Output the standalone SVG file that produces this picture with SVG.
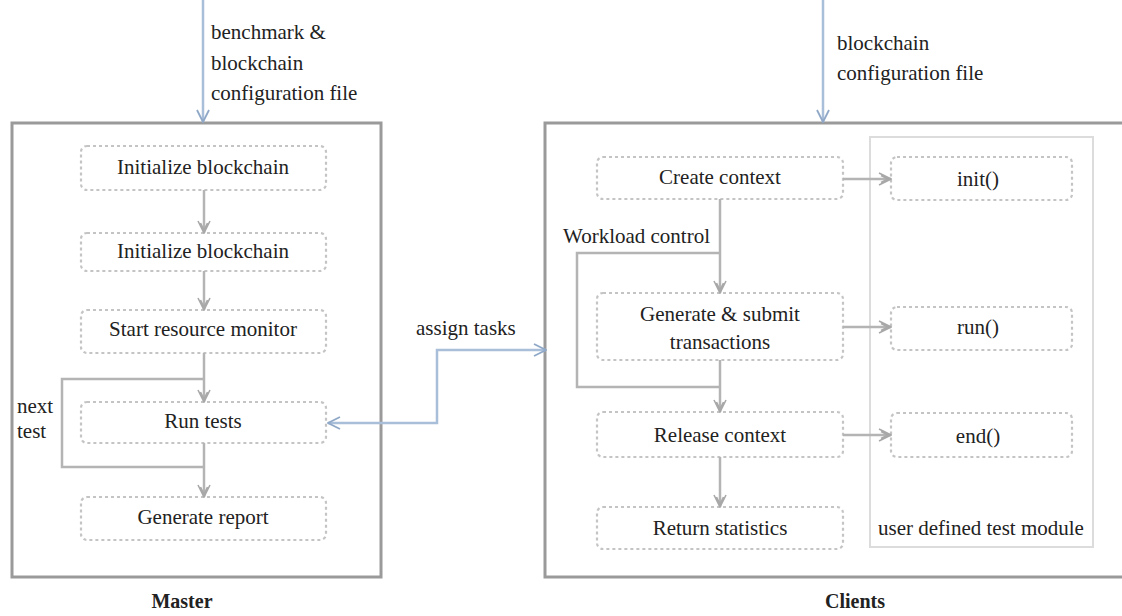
<svg xmlns="http://www.w3.org/2000/svg" width="1122" height="616" viewBox="0 0 1122 616">
<style>
  text { font-family: 'Liberation Serif', 'Times New Roman', serif; fill: #222; font-size: 21px; }
  .c { text-anchor: middle; }
  .b { font-weight: bold; font-size: 20px; }
  .frame { fill: none; stroke: #9a9a9a; stroke-width: 3; }
  .mod { fill: none; stroke: #dcdcdc; stroke-width: 2; }
  .node { fill: #fff; stroke: #c4c4c4; stroke-width: 2.2; stroke-dasharray: 3 3; }
  .flow { fill: none; stroke: #b4b4b4; stroke-width: 2.5; }
  .blue { fill: none; stroke: #a9bed8; stroke-width: 2.5; }
</style>
<defs>
  <marker id="ag" viewBox="0 0 14 14" refX="13" refY="7" markerWidth="14" markerHeight="14" markerUnits="userSpaceOnUse" orient="auto">
    <path d="M1,1 L13,7 L1,13 M3,3.5 L10,7 L3,10.5" fill="none" stroke="#a8a8a8" stroke-width="1.6"/>
  </marker>
  <marker id="ab" viewBox="0 0 14 14" refX="13" refY="7" markerWidth="14" markerHeight="14" markerUnits="userSpaceOnUse" orient="auto-start-reverse">
    <path d="M1,1 L13,7 L1,13" fill="none" stroke="#8fa8c8" stroke-width="1.8"/>
  </marker>
</defs>
<g id="master">
  <rect class="frame" x="12" y="123" width="369" height="454"/>
  <text class="b c" x="182" y="608">Master</text>
</g>
<g id="clients">
  <rect class="frame" x="545" y="123" width="600" height="454"/>
  <text class="b c" x="855" y="608">Clients</text>
</g>
<g id="user-module">
  <rect class="mod" x="870" y="137" width="223" height="410"/>
  <text class="c" x="981" y="535">user defined test module</text>
</g>

<g id="m1"><rect class="node" x="81" y="146" width="245" height="44" rx="6"/><text class="c" x="203" y="174">Initialize blockchain</text></g>
<g id="m2"><rect class="node" x="81" y="233" width="245" height="38" rx="6"/><text class="c" x="203" y="258">Initialize blockchain</text></g>
<g id="m3"><rect class="node" x="81" y="310" width="245" height="43" rx="6"/><text class="c" x="203" y="336">Start resource monitor</text></g>
<g id="m4"><rect class="node" x="81" y="402" width="245" height="41" rx="6"/><text class="c" x="203" y="428">Run tests</text></g>
<g id="m5"><rect class="node" x="81" y="497" width="245" height="43" rx="6"/><text class="c" x="203" y="524">Generate report</text></g>

<g id="c1"><rect class="node" x="597" y="157" width="246" height="42" rx="6"/><text class="c" x="720" y="184">Create context</text></g>
<g id="c2"><rect class="node" x="597" y="293" width="246" height="67" rx="6"/><text class="c" x="720" y="321">Generate &amp; submit</text><text class="c" x="720" y="349">transactions</text></g>
<g id="c3"><rect class="node" x="597" y="412" width="246" height="45" rx="6"/><text class="c" x="720" y="442">Release context</text></g>
<g id="c4"><rect class="node" x="597" y="507" width="246" height="42" rx="6"/><text class="c" x="720" y="535">Return statistics</text></g>

<g id="u1"><rect class="node" x="891" y="157" width="181" height="43" rx="6"/><text class="c" x="978" y="186">init()</text></g>
<g id="u2"><rect class="node" x="891" y="307" width="181" height="43" rx="6"/><text class="c" x="978" y="334">run()</text></g>
<g id="u3"><rect class="node" x="891" y="413" width="181" height="44" rx="6"/><text class="c" x="978" y="443">end()</text></g>

<g id="connectors">
  <line class="blue" x1="203" y1="0" x2="203" y2="122" marker-end="url(#ab)"/>
  <line class="blue" x1="823" y1="0" x2="823" y2="122" marker-end="url(#ab)"/>
  <path class="blue" d="M328,423 L437,423 L437,350 L546,350" marker-start="url(#ab)" marker-end="url(#ab)"/>

  <line class="flow" x1="204" y1="190" x2="204" y2="233" marker-end="url(#ag)"/>
  <line class="flow" x1="204" y1="271" x2="204" y2="310" marker-end="url(#ag)"/>
  <line class="flow" x1="204" y1="353" x2="204" y2="402" marker-end="url(#ag)"/>
  <line class="flow" x1="204" y1="443" x2="204" y2="497" marker-end="url(#ag)"/>
  <path class="flow" d="M204,467 L62,467 L62,379 L204,379"/>

  <line class="flow" x1="720" y1="199" x2="720" y2="293" marker-end="url(#ag)"/>
  <line class="flow" x1="720" y1="360" x2="720" y2="412" marker-end="url(#ag)"/>
  <line class="flow" x1="720" y1="457" x2="720" y2="507" marker-end="url(#ag)"/>
  <path class="flow" d="M720,387 L577,387 L577,253 L720,253"/>

  <line class="flow" x1="843" y1="179" x2="891" y2="179" marker-end="url(#ag)"/>
  <line class="flow" x1="843" y1="327" x2="891" y2="327" marker-end="url(#ag)"/>
  <line class="flow" x1="843" y1="435" x2="891" y2="435" marker-end="url(#ag)"/>
</g>

<g id="labels">
  <text x="211" y="39">benchmark &amp;</text>
  <text x="211" y="70">blockchain</text>
  <text x="211" y="100">configuration file</text>
  <text x="837" y="50">blockchain</text>
  <text x="837" y="80">configuration file</text>
  <text x="416" y="335">assign tasks</text>
  <text x="17" y="413">next</text>
  <text x="17" y="438">test</text>
  <text x="563" y="243">Workload control</text>
</g>
</svg>
